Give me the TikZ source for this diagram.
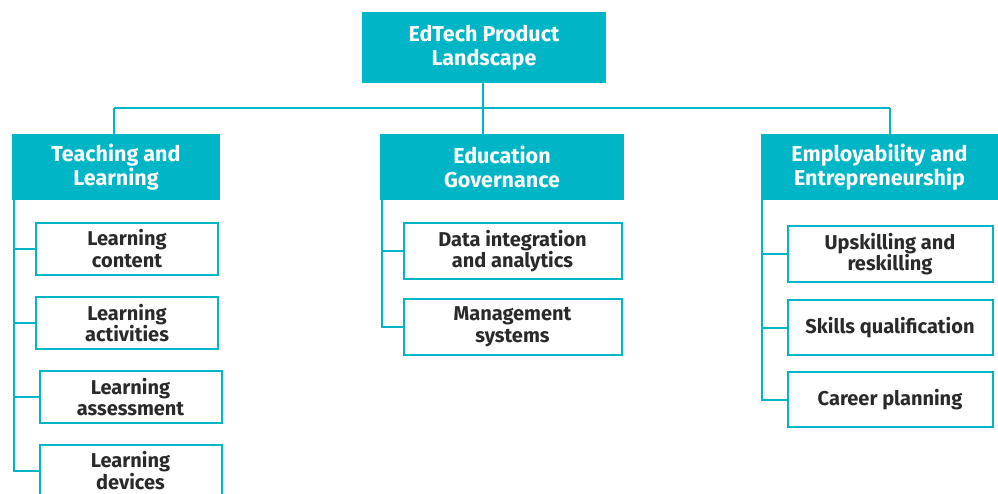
\documentclass[tikz,border=0pt]{standalone}
\usepackage{fontspec}
\setmainfont{Fira Sans}
\definecolor{teal1}{HTML}{00B5C6}
\definecolor{txt}{HTML}{2A2A2A}
\begin{document}
\begin{tikzpicture}[x=1pt,y=-1pt,
  headbox/.style={fill=teal1,draw=none,inner sep=0pt,align=center,text=white,
    font=\fontsize{21.5}{24.5}\selectfont\bfseries},
  subbox/.style={draw=teal1,line width=2pt,fill=white,inner sep=0pt,align=center,text=txt,
    font=\fontsize{20}{21.5}\selectfont\bfseries},
  conn/.style={draw=teal1,line width=2pt}]
\useasboundingbox (0,0) rectangle (998,493);
% top
\node[headbox,minimum width=244pt,minimum height=71pt] (top) at (484,47.5) {EdTech Product\\Landscape};
\node[headbox,minimum width=208pt,minimum height=66pt] (tl) at (116,167) {Teaching and\\Learning};
\node[headbox,minimum width=244pt,minimum height=66pt] (eg) at (502,167) {Education\\Governance};
\node[headbox,minimum width=237pt,minimum height=66pt] (ee) at (879.5,167) {Employability and\\Entrepreneurship};
% sub boxes left
\node[subbox,minimum width=182pt,minimum height=52pt] (lc) at (127,248.5) {Learning\\content};
\node[subbox,minimum width=182pt,minimum height=52pt] (la) at (127,323) {Learning\\activities};
\node[subbox,minimum width=182pt,minimum height=52pt] (ls) at (130.5,397) {Learning\\assessment};
\node[subbox,minimum width=182pt,minimum height=52pt] (ld) at (130.5,470.5) {Learning\\devices};
% sub boxes middle
\node[subbox,minimum width=218pt,minimum height=56pt] (di) at (512.5,251) {Data integration\\and analytics};
\node[subbox,minimum width=218pt,minimum height=56pt] (ms) at (512.5,327) {Management\\systems};
% sub boxes right
\node[subbox,minimum width=205pt,minimum height=56pt] (us) at (890,254) {Upskilling and\\reskilling};
\node[subbox,minimum width=205pt,minimum height=55pt] (sq) at (890,327.5) {Skills qualification};
\node[subbox,minimum width=205pt,minimum height=55pt] (cp) at (890,399.5) {Career planning};
% connectors
\coordinate (hub) at (483,108);
\coordinate (h1) at (114,108);
\coordinate (h3) at (890,108);
\draw[conn] (top.south -| hub) -- (hub);
\draw[conn] (h1) -- (h3);
\draw[conn] (h1) -- (h1 |- tl.north);
\draw[conn] (hub) -- (hub |- eg.north);
\draw[conn] (h3) -- (h3 |- ee.north);
\coordinate (vl) at ([xshift=2pt]tl.south west);
\coordinate (vm) at ([xshift=2pt]eg.south west);
\coordinate (vr) at ([xshift=1pt]ee.south west);
\draw[conn] (vl) |- (lc.west);
\draw[conn] (vl) |- (la.west);
\draw[conn] (vl) |- (ls.west);
\draw[conn] (vl) |- (ld.west);
\draw[conn] (vm) |- (di.west);
\draw[conn] (vm) |- (ms.west);
\draw[conn] (vr) |- (us.west);
\draw[conn] (vr) |- (sq.west);
\draw[conn] (vr) |- (cp.west);
\end{tikzpicture}
\end{document}
